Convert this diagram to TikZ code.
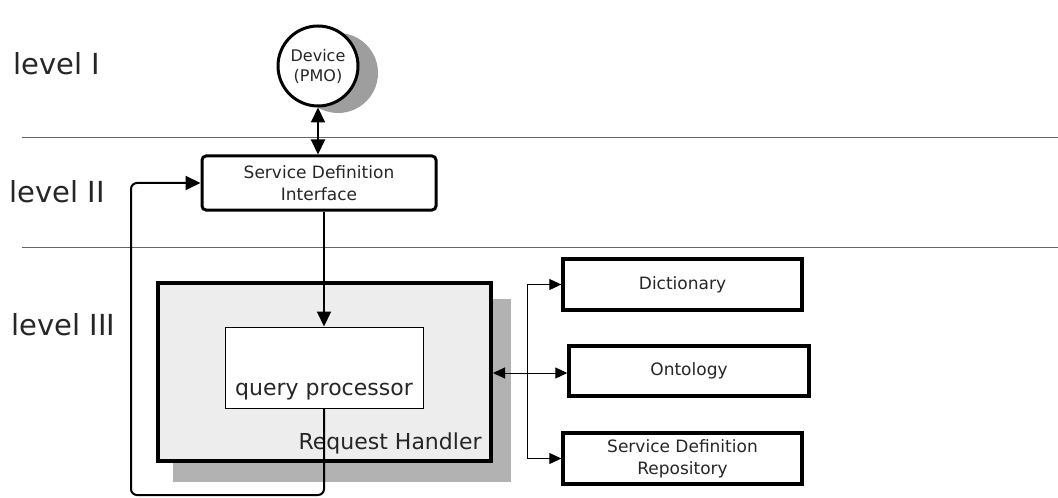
\documentclass[tikz,border=0pt]{standalone}
\usepackage{fontspec}
\setmainfont{DejaVu Sans}
\usetikzlibrary{arrows.meta}

\definecolor{shadowdark}{gray}{0.62}
\definecolor{shadowlight}{gray}{0.70}
\definecolor{handlerfill}{gray}{0.93}

\begin{document}
\begin{tikzpicture}[x=0.5pt,y=-0.5pt,
	levelstyle/.style={anchor=base west, inner sep=0pt, text=black!85, font=\fontsize{14.5}{16}\selectfont},
	boxstyle/.style={draw=black, fill=white, line width=1.7pt, align=center, text=black!85, font=\fontsize{8.5}{11}\selectfont, inner sep=0pt},
	bigarrow/.style={line width=1pt, -{Triangle[length=7.5pt,width=7pt]}},
	smallarrow/.style={line width=0.5pt, -{Triangle[length=6pt,width=5.5pt]}}]
	% Parameters
	\def\sepleft{22}
	\def\sepright{1058}
	\def\sepone{138}
	\def\septwo{247}
	\def\shadowr{20pt}
	
	\useasboundingbox (0,0) rectangle (1058,497);
	
	%levels
	\node[levelstyle] (lvlone) at (13,75) {level I};
	\node[levelstyle] (lvltwo) at (9,202) {level II};
	\node[levelstyle] (lvlthree) at (11,335) {level III};
	\draw[line width=0.5pt, gray!80!black] (\sepleft,\sepone) -- (\sepright,\sepone);
	\draw[line width=0.5pt, gray!80!black] (\sepleft,\septwo) -- (\sepright,\septwo);
	
	%shadows
	\fill[shadowdark] (338,73) circle[radius=\shadowr];
	\fill[shadowlight] (173,299) rectangle (511,482);
	
	%blocks
	\node[boxstyle, circle, line width=1.5pt, minimum size=40pt, font=\fontsize{8}{10}\selectfont] (dev) at (318,66) {Device\\(PMO)};
	\node[boxstyle, rounded corners=2pt, line width=1.5pt, minimum width=117pt, minimum height=27pt] (sdi) at (319,183) {Service Definition\\Interface};
	\node[boxstyle, fill=handlerfill, line width=2pt, minimum width=166.5pt, minimum height=89pt] (rh) at (324.5,372) {};
	\node[boxstyle, line width=0.5pt, minimum width=99pt, inner ysep=0pt, text height=34pt, text depth=6.5pt, font=\fontsize{11}{13}\selectfont] (qp) at (324,367.5) {query processor};
	\node[anchor=base east, inner sep=0pt, text=black!85, font=\fontsize{11}{13}\selectfont] (rhtext) at (482,449) {Request Handler};
	\node[boxstyle, minimum width=119.5pt, minimum height=25.5pt] (dict) at (682.5,284.5) {Dictionary};
	\node[boxstyle, minimum width=120pt, minimum height=25pt] (onto) at (689,371) {Ontology};
	\node[boxstyle, minimum width=119.5pt, minimum height=25.5pt] (sdr) at (682.5,458.5) {Service Definition\\Repository};
	
	%connectors
	\coordinate (fork) at (527,373);
	\coordinate (loopcorner) at (131,495);
	\draw[bigarrow, {Triangle[length=7.5pt,width=7pt]}-{Triangle[length=7.5pt,width=7pt]}] (dev) -- (dev |- sdi.north);
	\draw[bigarrow] (qp.north |- sdi.south) -- (qp.north);
	\draw[bigarrow, rounded corners=3pt] (qp.south) -- (qp.south |- loopcorner) -- (loopcorner) |- (sdi.west);
	\draw[smallarrow, {Triangle[length=6pt,width=5.5pt]}-{Triangle[length=6pt,width=5.5pt]}] (rh.east |- fork) -- (onto.west |- fork);
	\draw[smallarrow] (fork) |- (dict.west);
	\draw[smallarrow] (fork) |- (sdr.west);
\end{tikzpicture}
\end{document}
